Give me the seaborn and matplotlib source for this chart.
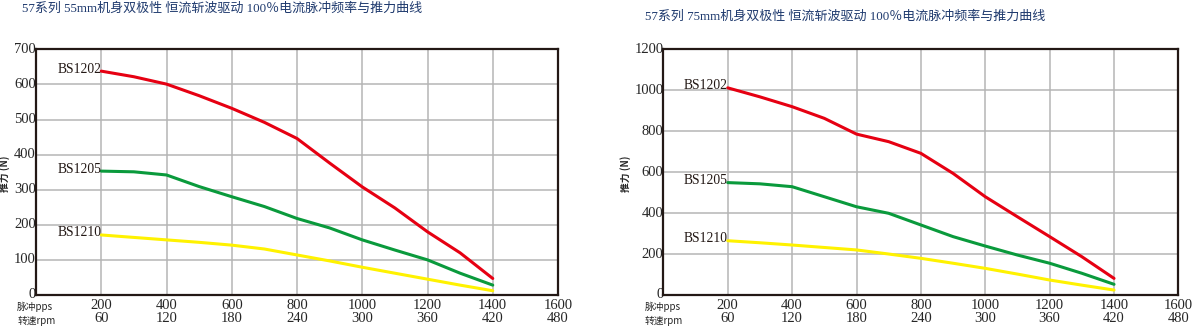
import matplotlib
matplotlib.use("Agg")
import matplotlib.pyplot as plt
import matplotlib.transforms as mtransforms
import seaborn as sns
import pandas as pd

# ---- data ----
pps = [200, 300, 400, 500, 600, 700, 800, 900, 1000, 1100, 1200, 1300, 1400]
rpm_ticks = [60, 120, 180, 240, 300, 360, 420, 480]
pps_ticks = [200, 400, 600, 800, 1000, 1200, 1400, 1600]
models = ["BS1202", "BS1205", "BS1210"]

left_bs1202 = [638, 622, 601, 568, 532, 492, 446, 376, 308, 248, 180, 120, 47]
left_bs1205 = [353, 351, 342, 309, 280, 252, 218, 191, 157, 128, 100, 62, 28]
left_bs1210 = [171, 164, 157, 150, 142, 131, 114, 97, 79, 62, 45, 28, 12]

right_bs1202 = [1012, 968, 920, 863, 786, 749, 692, 594, 480, 382, 285, 187, 81]
right_bs1205 = [549, 543, 529, 480, 431, 399, 342, 285, 239, 195, 155, 106, 52]
right_bs1210 = [265, 255, 244, 232, 220, 200, 179, 155, 130, 102, 73, 48, 24]

titles = ["57系列 55mm机身双极性 恒流斩波驱动 100％电流脉冲频率与推力曲线",
          "57系列 75mm机身双极性 恒流斩波驱动 100％电流脉冲频率与推力曲线"]
ylabel = "推力 (N)"
xlab1 = "脉冲pps"
xlab2 = "转速rpm"

sns.set_style("white")
plt.rcParams["font.family"] = ["Liberation Serif", "Noto Sans CJK SC", "DejaVu Sans"]
CJK = ["Noto Sans CJK SC", "DejaVu Sans"]

palette = {"BS1202": "#e60012", "BS1205": "#0a9a3c", "BS1210": "#fff200"}

fig = plt.figure(figsize=(12, 3.27), dpi=100)
axes = [fig.add_axes([0.030, 0.098, 0.435, 0.751]),
        fig.add_axes([0.5528, 0.098, 0.4292, 0.751])]

panels = [
    (left_bs1202, left_bs1205, left_bs1210, 700, 100, -0.049),
    (right_bs1202, right_bs1205, right_bs1210, 1200, 200, -0.062),
]

up = mtransforms.ScaledTranslation(0, 1 / 72, fig.dpi_scale_trans)
zero_shift = mtransforms.ScaledTranslation(-8 / 72, 4 / 72, fig.dpi_scale_trans)

for i, (ax, (s1, s2, s3, ymax, ystep, ylx)) in enumerate(zip(axes, panels)):
    df = pd.DataFrame({
        "pps": pps * 3,
        "force": s1 + s2 + s3,
        "model": [models[0]] * len(pps) + [models[1]] * len(pps) + [models[2]] * len(pps),
    })
    sns.lineplot(data=df, x="pps", y="force", hue="model", palette=palette,
                 linewidth=2.2, ax=ax, legend=False, zorder=3)
    ax.set_xlim(0, 1600)
    ax.set_ylim(0, ymax)
    ax.set_xticks([0] + pps_ticks)
    ax.set_xticklabels([""] + [f"{p}\n{r}" for p, r in zip(pps_ticks, rpm_ticks)],
                       fontsize=10.5, linespacing=1.0)
    yt = list(range(0, ymax + 1, ystep))
    ax.set_yticks(yt)
    ax.set_yticklabels([str(v) for v in yt], fontsize=10.5, va="center")
    for k, lab in enumerate(ax.get_yticklabels()):
        lab.set_transform(lab.get_transform() + (zero_shift if k == 0 else up))
    ax.tick_params(axis="y", length=0, pad=0)
    ax.tick_params(axis="x", length=0, pad=3)
    ax.grid(True, color="#b5b5b5", linewidth=1.1, zorder=0)
    ax.set_axisbelow(True)
    for sp in ax.spines.values():
        sp.set_color("#231815")
        sp.set_linewidth(1.6)
    ax.set_xlabel("")
    ax.set_ylabel(ylabel, fontsize=7, family=CJK, fontweight="bold")
    ax.yaxis.set_label_coords(ylx, 0.495)
    # series labels
    for m, s in zip(models, (s1, s2, s3)):
        t = ax.text(pps[0], s[0], m, ha="right", va="center", fontsize=9.8,
                    color="#231815")
        t.set_transform(t.get_transform() + mtransforms.ScaledTranslation(
            0, 1.5 / 72, fig.dpi_scale_trans))
    # axis captions
    ax.text(-0.036, -0.049, xlab1, transform=ax.transAxes, ha="left", va="center",
            fontsize=7, family=CJK)
    ax.text(-0.036, -0.106, xlab2, transform=ax.transAxes, ha="left", va="center",
            fontsize=7, family=CJK)

fig.text(0.0185, 0.974, titles[0], ha="left", va="center", fontsize=9.4,
         color="#1f3a6e")
fig.text(0.5375, 0.948, titles[1], ha="left", va="center", fontsize=9.4,
         color="#1f3a6e")

fig.savefig("out.png", dpi=100, facecolor="white")
